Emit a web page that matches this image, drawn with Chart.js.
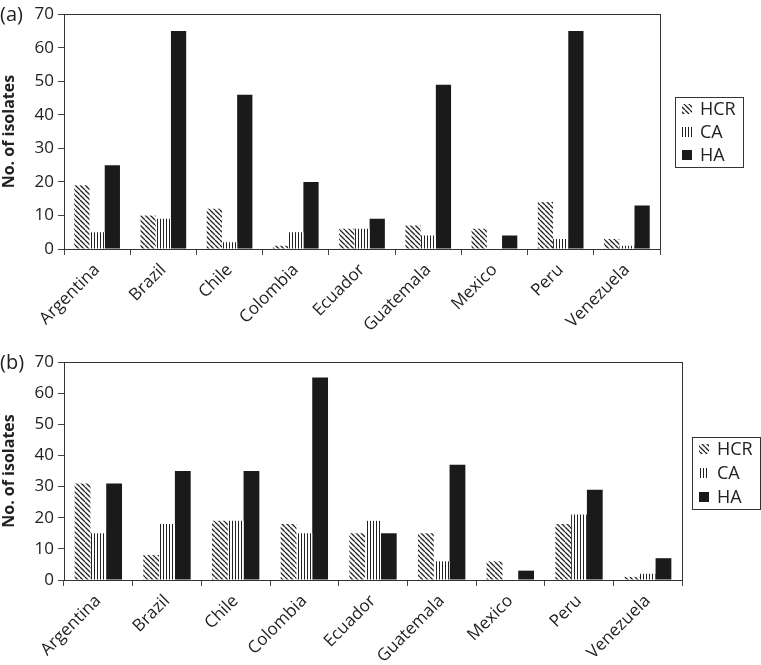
<!DOCTYPE html>
<html>
<head>
<meta charset="utf-8">
<script src="https://cdn.jsdelivr.net/npm/chart.js@4/dist/chart.umd.min.js"></script>
<style>
  body { margin: 0; background: #fff; }
  .wrap { position: relative; width: 761px; height: 665px; }
  canvas { position: absolute; left: 0; }
</style>
</head>
<body>
<div class="wrap">
  <canvas id="chartA" width="761" height="332" style="top:0"></canvas>
  <canvas id="chartB" width="761" height="333" style="top:332px"></canvas>
</div>
<script>
const categories = ['Argentina', 'Brazil', 'Chile', 'Colombia', 'Ecuador', 'Guatemala', 'Mexico', 'Peru', 'Venezuela'];
const seriesNames = ['HCR', 'CA', 'HA'];

// panel (a)
const hcrA = [19, 10, 12, 1, 6, 7, 6, 14, 3];
const caA = [5, 9, 2, 5, 6, 4, 0, 3, 1];
const haA = [25, 65, 46, 20, 9, 49, 4, 65, 13];

// panel (b)
const hcrB = [31, 8, 19, 18, 15, 15, 6, 18, 1];
const caB = [15, 18, 19, 15, 19, 6, 0, 21, 2];
const haB = [31, 35, 35, 65, 15, 37, 3, 29, 7];

const yMax = 70;
const yStep = 10;

const FONT = "'Open Sans', 'DejaVu Sans', sans-serif";

function makePattern(kind) {
    const c = document.createElement('canvas');
    const s = kind === 'diag' ? 5 : 3;
    c.width = s; c.height = s;
    const g = c.getContext('2d');
    g.fillStyle = '#fff';
    g.fillRect(0, 0, s, s);
    g.strokeStyle = '#222';
    if (kind === 'diag') {
        g.lineWidth = 1.3;
        g.beginPath();
        for (const k of [-s, 0, s]) {
            g.moveTo(k, 0);
            g.lineTo(k + s, s);
        }
        g.stroke();
    } else {
        g.fillStyle = '#222';
        g.fillRect(1, 0, 1, s);
    }
    return g.createPattern(c, 'repeat');
}

const hcrFill = makePattern('diag');
const caFill = makePattern('vert');
const haFill = '#1a1a1a';

function makeChart(id, hcr, ca, ha, geo) {
    const canvas = document.getElementById(id);
    const W = canvas.width, H = canvas.height;

    const decor = {
        id: 'decor',
        afterDraw(chart) {
            const ctx = chart.ctx;
            const a = chart.chartArea;
            ctx.save();
            // frame
            ctx.strokeStyle = '#333';
            ctx.lineWidth = 1;
            ctx.strokeRect(Math.round(a.left) + 0.5, Math.round(a.top) + 0.5,
                Math.round(a.right - a.left), Math.round(a.bottom - a.top));
            // panel letter
            ctx.fillStyle = '#222';
            ctx.font = '20px ' + FONT;
            ctx.textBaseline = 'middle';
            ctx.textAlign = 'left';
            ctx.fillText(geo.letter, 0, a.top + 1);
            // legend box
            const lb = geo.legend;
            ctx.strokeStyle = '#333';
            ctx.strokeRect(lb.x + 0.5, lb.y + 0.5, lb.w, lb.h);
            ctx.font = '18px ' + FONT;
            chart.data.datasets.forEach((ds, i) => {
                const cy = lb.y + lb.rows[i];
                ctx.fillStyle = ds.backgroundColor;
                ctx.fillRect(lb.x + 7, cy - 5, 10, 10);
                ctx.fillStyle = '#222';
                ctx.fillText(ds.label, lb.x + 25, cy + 1);
            });
            ctx.restore();
        }
    };

    return new Chart(canvas.getContext('2d'), {
        type: 'bar',
        data: {
            labels: categories,
            datasets: [
                { label: seriesNames[0], data: hcr, backgroundColor: hcrFill },
                { label: seriesNames[1], data: ca, backgroundColor: caFill },
                { label: seriesNames[2], data: ha, backgroundColor: haFill }
            ]
        },
        options: {
            responsive: false,
            animation: false,
            layout: {
                padding: { top: geo.top, right: W - geo.right, left: 0, bottom: 0 }
            },
            datasets: {
                bar: { categoryPercentage: 0.69, barPercentage: 1.0, borderWidth: 0 }
            },
            plugins: {
                legend: { display: false },
                tooltip: { enabled: false }
            },
            scales: {
                x: {
                    afterFit: (scale) => { scale.height = H - geo.bottom; },
                    grid: { offset: true, drawOnChartArea: false, tickLength: 6, color: '#444' },
                    border: { color: '#333' },
                    ticks: {
                        color: '#222',
                        font: { family: FONT, size: 17 },
                        minRotation: 45,
                        maxRotation: 45,
                        padding: 5,
                        autoSkip: false
                    }
                },
                y: {
                    min: 0,
                    max: yMax,
                    afterFit: (scale) => { scale.width = geo.left; },
                    grid: { drawOnChartArea: false, tickLength: 6, color: '#444' },
                    border: { color: '#333' },
                    ticks: {
                        stepSize: yStep,
                        color: '#222',
                        font: { family: FONT, size: 17 },
                        padding: 4
                    },
                    title: {
                        display: true,
                        text: 'No. of isolates',
                        color: '#222',
                        font: { family: FONT, size: 16, weight: 'bold' },
                        padding: 0
                    }
                }
            }
        },
        plugins: [decor]
    });
}

makeChart('chartA', hcrA, caA, haA, {
    letter: '(a)', left: 64, top: 12, right: 660, bottom: 249,
    legend: { x: 675, y: 97, w: 68, h: 70, rows: [12, 35, 58] }
});

makeChart('chartB', hcrB, caB, haB, {
    letter: '(b)', left: 64, top: 30, right: 682, bottom: 248,
    legend: { x: 692, y: 105, w: 68, h: 72, rows: [12, 36, 60] }
});
</script>
</body>
</html>
